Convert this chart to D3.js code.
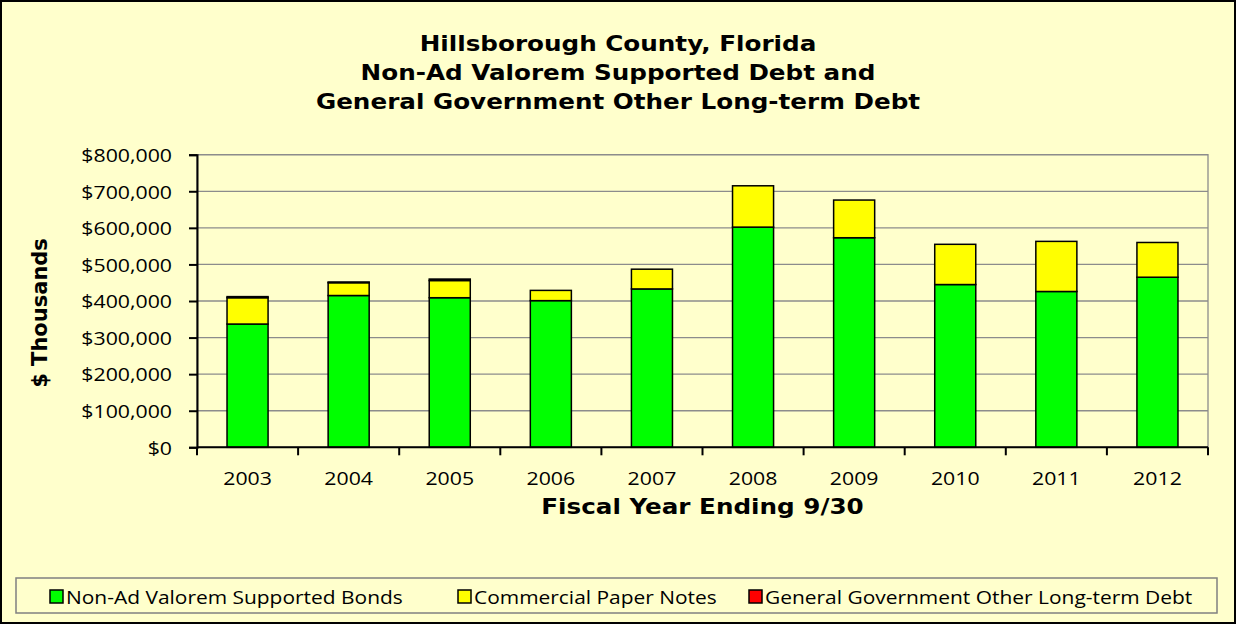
<!DOCTYPE html>
<html>
<head>
<meta charset="utf-8">
<script src="https://cdn.jsdelivr.net/npm/d3@7"></script>
<style>
  body { margin: 0; background: #fff; }
  svg { display: block; }
</style>
</head>
<body>
<div class="chart"></div>
<script>
const width = 1236;
const height = 624;

// values in $ thousands
const years = ["2003", "2004", "2005", "2006", "2007", "2008", "2009", "2010", "2011", "2012"];
const bonds = [337, 415, 409, 401, 433, 602, 573, 445, 426, 465];
const paper = [72, 35, 47, 28, 54, 113, 103, 110, 137, 95];
const otherDebt = [3, 2, 4, 0, 0, 0, 0, 0, 0, 0];
const yTicks = [0, 100, 200, 300, 400, 500, 600, 700, 800];

const seriesNames = ["Non-Ad Valorem Supported Bonds", "Commercial Paper Notes", "General Government Other Long-term Debt"];
const seriesColors = ["#00ff00", "#ffff00", "#ff0000"];
const titleLines = ["Hillsborough County, Florida", "Non-Ad Valorem Supported Debt and", "General Government Other Long-term Debt"];

const bg = "#ffffcc";
const stretch = 1.12;
const bodyFont = "'Open Sans', sans-serif";
const boldFont = "'DejaVu Sans', Verdana, sans-serif";

const plot = {left: 197, right: 1208, top: 154.7, bottom: 447.3};

const svg = d3.select(".chart").append("svg").attr("width", width).attr("height", height);

svg.append("rect")
    .attr("x", 1).attr("y", 1)
    .attr("width", width - 2).attr("height", height - 2)
    .attr("fill", bg).attr("stroke", "#000").attr("stroke-width", 2);

const rows = years.map((y, i) => ({year: y, bonds: bonds[i], paper: paper[i], other: otherDebt[i]}));
const keys = ["bonds", "paper", "other"];
const stacked = d3.stack().keys(keys)(rows);

const x = d3.scaleBand()
    .domain(years)
    .range([plot.left, plot.right])
    .paddingInner(0.594)
    .paddingOuter(0.297);

const y = d3.scaleLinear()
    .domain([0, 800])
    .range([plot.bottom, plot.top]);

// plot area
svg.append("rect")
    .attr("x", plot.left).attr("y", plot.top)
    .attr("width", plot.right - plot.left).attr("height", plot.bottom - plot.top)
    .attr("fill", bg).attr("stroke", "#8c8c8c").attr("stroke-width", 1.3);

svg.append("g")
    .selectAll("line")
    .data(yTicks.slice(1))
    .enter()
      .append("line")
      .attr("x1", plot.left).attr("x2", plot.right)
      .attr("y1", d => y(d)).attr("y2", d => y(d))
      .attr("stroke", "#8c8c8c").attr("stroke-width", 1.3);

// bars
svg.append("g")
    .selectAll("g")
    .data(stacked)
    .enter()
      .append("g")
      .attr("fill", (d, i) => seriesColors[i])
    .selectAll("rect")
    .data(d => d.filter(p => p[1] > p[0]))
    .enter()
      .append("rect")
      .attr("x", d => x(d.data.year))
      .attr("width", x.bandwidth())
      .attr("y", d => y(d[1]))
      .attr("height", d => y(d[0]) - y(d[1]))
      .attr("stroke", "#000")
      .attr("stroke-width", 1.5);

// y axis
const yAxis = svg.append("g")
    .attr("transform", `translate(${plot.left},0)`)
    .call(d3.axisLeft(y)
      .tickValues(yTicks)
      .tickSize(8)
      .tickPadding(17)
      .tickFormat(d => "$" + d3.format(",")(d * 1000)));
yAxis.select(".domain").attr("stroke", "#000").attr("stroke-width", 2);
yAxis.selectAll(".tick line").attr("stroke", "#000").attr("stroke-width", 2);
yAxis.selectAll(".tick text")
    .attr("font-family", bodyFont).attr("font-size", 19).attr("fill", "#000")
    .attr("dy", "0.36em");

// x axis with ticks between categories
const xAxis = svg.append("g")
    .attr("transform", `translate(0,${plot.bottom})`)
    .call(d3.axisBottom(x).tickSize(0).tickPadding(24));
xAxis.select(".domain").attr("d", `M${plot.left},0H${plot.right}`)
    .attr("stroke", "#000").attr("stroke-width", 2);
xAxis.selectAll(".tick text")
    .attr("font-family", bodyFont).attr("font-size", 19).attr("fill", "#000");
xAxis.append("g")
    .selectAll("line")
    .data(years.concat(["end"]))
    .enter()
      .append("line")
      .attr("x1", (d, i) => plot.left + i * x.step())
      .attr("x2", (d, i) => plot.left + i * x.step())
      .attr("y1", 0).attr("y2", 8)
      .attr("stroke", "#000").attr("stroke-width", 2);

// titles
svg.append("g")
    .selectAll("text")
    .data(titleLines)
    .enter()
      .append("text")
      .attr("class", "stretch")
      .attr("x", width / 2)
      .attr("y", (d, i) => 51 + i * 29)
      .attr("text-anchor", "middle")
      .attr("font-family", boldFont).attr("font-weight", "bold").attr("font-size", 22)
      .text(d => d);

svg.append("text")
    .attr("transform", "translate(47,313) rotate(-90)")
    .attr("text-anchor", "middle")
    .attr("font-family", boldFont).attr("font-weight", "bold").attr("font-size", 21)
    .text("$ Thousands");

svg.append("text")
    .attr("class", "stretch")
    .attr("x", (plot.left + plot.right) / 2)
    .attr("y", 514)
    .attr("text-anchor", "middle")
    .attr("font-family", boldFont).attr("font-weight", "bold").attr("font-size", 22)
    .text("Fiscal Year Ending 9/30");

// legend
const legend = svg.append("g");
legend.append("rect")
    .attr("x", 16).attr("y", 578)
    .attr("width", 1201).attr("height", 35)
    .attr("fill", bg).attr("stroke", "#808080").attr("stroke-width", 1.5);

const legendX = [50, 458, 749];
const item = legend.selectAll(".item")
    .data(seriesNames)
    .enter()
      .append("g")
      .attr("class", "item")
      .attr("transform", (d, i) => `translate(${legendX[i]},590)`);
item.append("rect")
    .attr("width", 13).attr("height", 13)
    .attr("fill", (d, i) => seriesColors[i])
    .attr("stroke", "#000").attr("stroke-width", 1.5);
item.append("text")
    .attr("class", "stretch")
    .attr("x", 16).attr("y", 13.5)
    .attr("font-family", bodyFont).attr("font-size", 18.7)
    .text(d => d);

// widen horizontal text a little, the source chart is stretched sideways
svg.selectAll(".tick text, text.stretch").each(function() {
  const w = this.getComputedTextLength();
  d3.select(this).attr("textLength", w * stretch).attr("lengthAdjust", "spacingAndGlyphs");
});
</script>
</body>
</html>
